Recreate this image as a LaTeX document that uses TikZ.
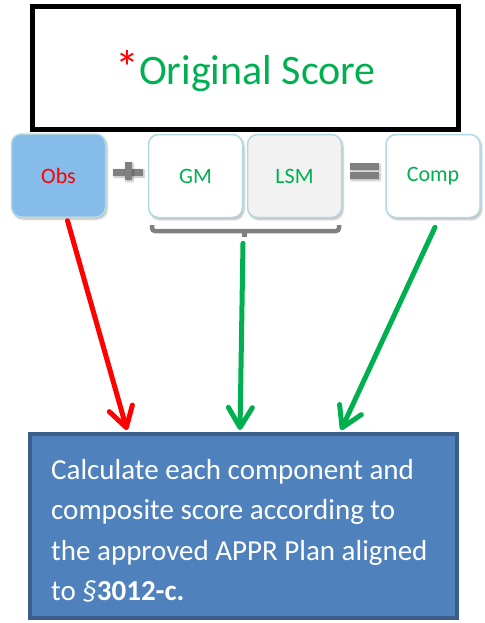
\documentclass[tikz,border=0pt]{standalone}
\usepackage{fontspec}
\setmainfont{Carlito}
\usetikzlibrary{arrows.meta,calc,shadows.blur}
\definecolor{myred}{HTML}{FF0000}
\definecolor{mygreen}{HTML}{00B050}
\definecolor{obsfill}{HTML}{86BCEA}
\definecolor{smallborder}{HTML}{B2D9E1}
\definecolor{lsmfill}{HTML}{F2F2F2}
\definecolor{opgray}{HTML}{808080}
\definecolor{calcfill}{HTML}{4F81BD}
\definecolor{calcborder}{HTML}{3B5E8C}
\tikzset{
  smallbox/.style={draw=smallborder, line width=1.5pt, rounded corners=10pt,
    minimum width=94pt, minimum height=83pt, inner sep=0pt,
    font=\fontsize{22}{26}\selectfont, text=mygreen,
    blur shadow={shadow blur steps=6, shadow xshift=1.5pt, shadow yshift=-2pt, shadow opacity=30}},
  opbar/.style={fill=opgray, draw=none,
    blur shadow={shadow blur steps=4, shadow xshift=1pt, shadow yshift=-1.5pt, shadow opacity=30}},
  conn/.style={line width=5pt, line cap=round,
    -{Straight Barb[length=20pt,width=24pt,line cap=round,round]}},
}
\begin{document}
\begin{tikzpicture}[x=1pt,y=-1pt]
\useasboundingbox (0,0) rectangle (484,623);
% title
\node[draw=black, line width=5pt, minimum width=426pt, minimum height=123pt, inner sep=0pt] (title) at (245.5,68) {};
\node[font=\fontsize{42}{48}\selectfont, inner sep=0pt] (titletext) at ($(title.center)+(0,3)$)
  {\textcolor{myred}{\fontsize{48}{48}\selectfont*}\textcolor{mygreen}{Original Score}};
% small boxes
\node[smallbox, fill=obsfill, text=myred] (obs) at (58.5,175.5) {Obs};
\node[smallbox, fill=white] (gm) at (195.5,176) {GM};
\node[smallbox, fill=lsmfill] (lsm) at (294.5,176) {LSM};
\node[smallbox, fill=white] (comp) at (433,176) {Comp};
% plus
\path[opbar] (113,168.5) rectangle (143,175.5);
\path[opbar] (125,162) rectangle (132,180);
% equals
\path[opbar] (350,163) rectangle (379,170);
\path[opbar] (350,172) rectangle (379,179);
% brace
\draw[opgray, line width=4.5pt, rounded corners=3pt] (152,225) -- (152,231) -- (339,231) -- (339,225);
\draw[opgray, line width=4.5pt] (244.5,231) -- (244.5,237);
% bottom box
\node[draw=calcborder, fill=calcfill, line width=4pt, minimum width=427pt, minimum height=184pt,
  inner sep=0pt] (calc) at (243.5,526) {};
\node[anchor=west, text=white, align=left, inner sep=0pt,
  font=\fontsize{29}{40.5}\selectfont] (calctext) at ($(calc.west)+(23,5)$)
  {Calculate each component and\\composite score according to\\the approved APPR Plan aligned\\to \textit{§}\textbf{3012-c.}};
% connectors
\draw[conn, myred] ($(obs.south)+(9,3)$) -- ($(calc.north west)+(99,-2)$);
\draw[conn, mygreen] ($(gm.south east)!0.5!(lsm.south west)+(-2,25)$) -- ($(calc.north west)+(212,-2)$);
\draw[conn, mygreen] ($(comp.south)+(2,9)$) -- ($(calc.north west)+(313,-2)$);
\end{tikzpicture}
\end{document}
